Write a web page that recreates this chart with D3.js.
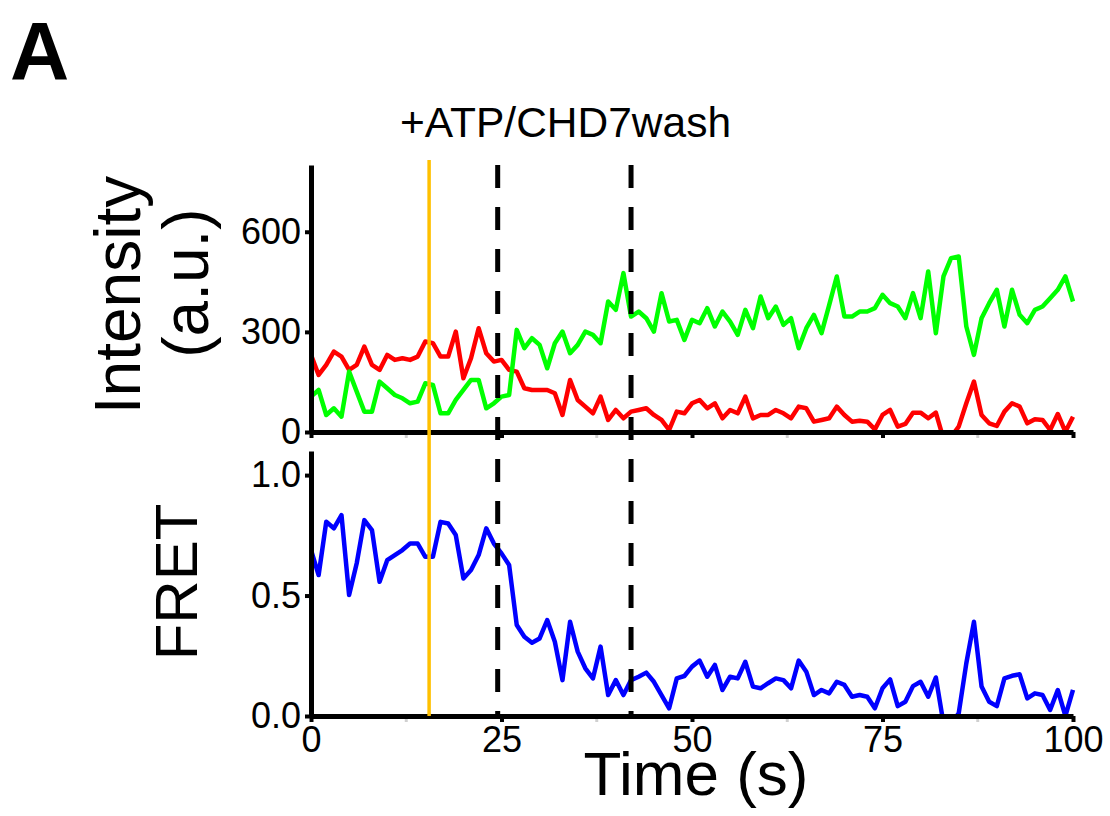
<!DOCTYPE html>
<html>
<head>
<meta charset="utf-8">
<script src="https://cdn.jsdelivr.net/npm/d3@7"></script>
<style>
  body { margin: 0; background: #fff; }
  text { font-family: "Liberation Sans", Arial, sans-serif; fill: #000; }
</style>
</head>
<body>
<svg id="canvas" width="1110" height="816"></svg>
<script>
"use strict";

// === Data (1 s per frame) ===
let time = d3.range(0, 101);

let acceptor = [ // red
  231, 171, 201, 241, 226, 186, 201, 256, 201, 186,
  231, 216, 221, 216, 226, 271, 266, 226, 226, 301,
  161, 221, 311, 236, 211, 216, 186, 181, 131, 126,
  126, 126, 116, 51, 156, 96, 76, 56, 106, 36,
  66, 41, 61, 66, 71, 51, 36, 6, 61, 56,
  86, 96, 71, 86, 41, 66, 56, 106, 41, 51,
  51, 66, 56, 41, 76, 71, 31, 36, 41, 76,
  51, 31, 34, 31, 8, 51, 66, 16, 24, 58,
  58, 41, 58, -20, -15, 16, 86, 151, 51, 26,
  18, 61, 86, 76, 26, 38, 36, 6, 54, 1,
  46
];

let donor = [ // green
  106, 126, 51, 71, 46, 181, 121, 61, 61, 151,
  131, 111, 101, 86, 91, 146, 141, 56, 56, 96,
  126, 156, 156, 71, 86, 106, 111, 306, 251, 281,
  261, 191, 266, 301, 236, 261, 301, 291, 266, 391,
  366, 476, 346, 361, 341, 301, 416, 331, 336, 276,
  336, 326, 371, 316, 361, 331, 291, 366, 311, 406,
  341, 376, 321, 341, 251, 311, 351, 296, 380, 466,
  346, 346, 361, 361, 371, 411, 386, 376, 341, 416,
  341, 481, 296, 466, 521, 526, 316, 231, 341, 386,
  426, 316, 426, 351, 326, 366, 376, 401, 426, 466,
  391
];

let fret = [ // blue
  0.689, 0.585, 0.806, 0.779, 0.834, 0.502, 0.634, 0.813, 0.772, 0.557,
  0.647, 0.668, 0.689, 0.716, 0.716, 0.661, 0.661, 0.806, 0.799, 0.751,
  0.571, 0.606, 0.668, 0.779, 0.716, 0.675, 0.627, 0.378, 0.329, 0.304,
  0.322, 0.398, 0.308, 0.149, 0.391, 0.267, 0.198, 0.156, 0.288, 0.087,
  0.149, 0.087, 0.149, 0.163, 0.180, 0.142, 0.087, 0.032, 0.156, 0.166,
  0.205, 0.230, 0.163, 0.212, 0.108, 0.163, 0.156, 0.225, 0.122, 0.115,
  0.136, 0.156, 0.149, 0.115, 0.230, 0.184, 0.087, 0.108, 0.094, 0.142,
  0.129, 0.080, 0.087, 0.080, 0.032, 0.115, 0.152, 0.041, 0.059, 0.124,
  0.142, 0.080, 0.160, -0.03, -0.03, 0.011, 0.219, 0.391, 0.122, 0.059,
  0.041, 0.156, 0.167, 0.173, 0.073, 0.094, 0.087, 0.025, 0.108, 0.0,
  0.108
];

let xTicks = [0, 25, 50, 75, 100];
let xMinorTicks = [12.5, 37.5, 62.5, 87.5];
let intensityTicks = [0, 300, 600];
let fretTicks = [0, 0.5, 1.0];

let addTime = 15.5;          // yellow line
let washTimes = [24.5, 42];  // dashed lines
let eventLabel = "+ATP/CHD7wash";

// === Scales ===
let svg = d3.select("#canvas");
let x = d3.scaleLinear().domain([0, 100]).range([311, 1073]);
let yInt = d3.scaleLinear().domain([0, 800]).range([432, 165]);
let yFret = d3.scaleLinear().domain([0, 1.1]).range([716, 451]);

// clip paths for the two panels
let defs = svg.append("defs");
defs.append("clipPath").attr("id", "clipTop")
  .append("rect").attr("x", 311).attr("y", 150).attr("width", 770).attr("height", 282);
defs.append("clipPath").attr("id", "clipBot")
  .append("rect").attr("x", 311).attr("y", 440).attr("width", 770).attr("height", 276);

// === Helper: style an axis group ===
function styleAxis(g) {
  g.select(".domain").attr("stroke", "#000").attr("stroke-width", 5);
  g.selectAll(".tick line").attr("stroke", "#000").attr("stroke-width", 4);
  g.selectAll(".tick text").style("font-size", "36px").attr("fill", "#000");
}

function minorTicks(yPos) {
  svg.append("g").selectAll("line")
    .data(xMinorTicks)
    .join("line")
    .attr("x1", d => x(d)).attr("x2", d => x(d))
    .attr("y1", yPos + 2).attr("y2", yPos + 6)
    .attr("stroke", "#d0d0d0")
    .attr("stroke-width", 3);
}

// === Lines ===
let lineInt = d3.line().x((d, i) => x(time[i])).y(d => yInt(d));
let lineFret = d3.line().x((d, i) => x(time[i])).y(d => yFret(d));

let topPanel = svg.append("g").attr("clip-path", "url(#clipTop)");
topPanel.append("path").datum(acceptor)
  .attr("d", lineInt).attr("fill", "none")
  .attr("stroke", "#ff0000").attr("stroke-width", 4.5).attr("stroke-linejoin", "round");
topPanel.append("path").datum(donor)
  .attr("d", lineInt).attr("fill", "none")
  .attr("stroke", "#00ff00").attr("stroke-width", 4.5).attr("stroke-linejoin", "round");

let botPanel = svg.append("g").attr("clip-path", "url(#clipBot)");
botPanel.append("path").datum(fret)
  .attr("d", lineFret).attr("fill", "none")
  .attr("stroke", "#0000ff").attr("stroke-width", 4.5).attr("stroke-linejoin", "round");

// === Axes ===
minorTicks(432);
minorTicks(716);

let axTopY = svg.append("g").attr("transform", "translate(311,0)")
  .call(d3.axisLeft(yInt).tickValues(intensityTicks).tickSize(6).tickSizeOuter(0).tickPadding(4));
styleAxis(axTopY);

let axTopX = svg.append("g").attr("transform", "translate(0,432)")
  .call(d3.axisBottom(x).tickValues(xTicks).tickSize(6).tickSizeOuter(0).tickFormat(""));
styleAxis(axTopX);

let axBotY = svg.append("g").attr("transform", "translate(311,0)")
  .call(d3.axisLeft(yFret).tickValues(fretTicks).tickSize(6).tickSizeOuter(0).tickPadding(4)
    .tickFormat(d3.format(".1f")));
styleAxis(axBotY);

let axBotX = svg.append("g").attr("transform", "translate(0,716)")
  .call(d3.axisBottom(x).tickValues(xTicks).tickSize(6).tickSizeOuter(0).tickPadding(4));
styleAxis(axBotX);

// === Event markers ===
svg.append("line")
  .attr("x1", x(addTime)).attr("x2", x(addTime))
  .attr("y1", 160).attr("y2", 716)
  .attr("stroke", "#ffc000").attr("stroke-width", 3.5);

svg.append("g").selectAll("line")
  .data(washTimes)
  .join("line")
  .attr("x1", d => x(d)).attr("x2", d => x(d))
  .attr("y1", 165).attr("y2", 716)
  .attr("stroke", "#000").attr("stroke-width", 5)
  .attr("stroke-dasharray", "23,19");

svg.append("text")
  .attr("x", 400).attr("y", 137)
  .style("font-size", "42.5px")
  .text(eventLabel);

// === Titles ===
svg.append("text")
  .attr("x", 10).attr("y", 79)
  .style("font-size", "82px").style("font-weight", "bold")
  .text("A");

svg.append("text")
  .attr("transform", "translate(140,295) rotate(-90)")
  .attr("text-anchor", "middle")
  .style("font-size", "64px")
  .text("Intensity");

svg.append("text")
  .attr("transform", "translate(208,283) rotate(-90)")
  .attr("text-anchor", "middle")
  .style("font-size", "64px")
  .text("(a.u.)");

svg.append("text")
  .attr("transform", "translate(197,582) rotate(-90)")
  .attr("text-anchor", "middle")
  .style("font-size", "60px")
  .text("FRET");

svg.append("text")
  .attr("x", 696).attr("y", 795)
  .attr("text-anchor", "middle")
  .style("font-size", "62px")
  .text("Time (s)");
</script>
</body>
</html>
